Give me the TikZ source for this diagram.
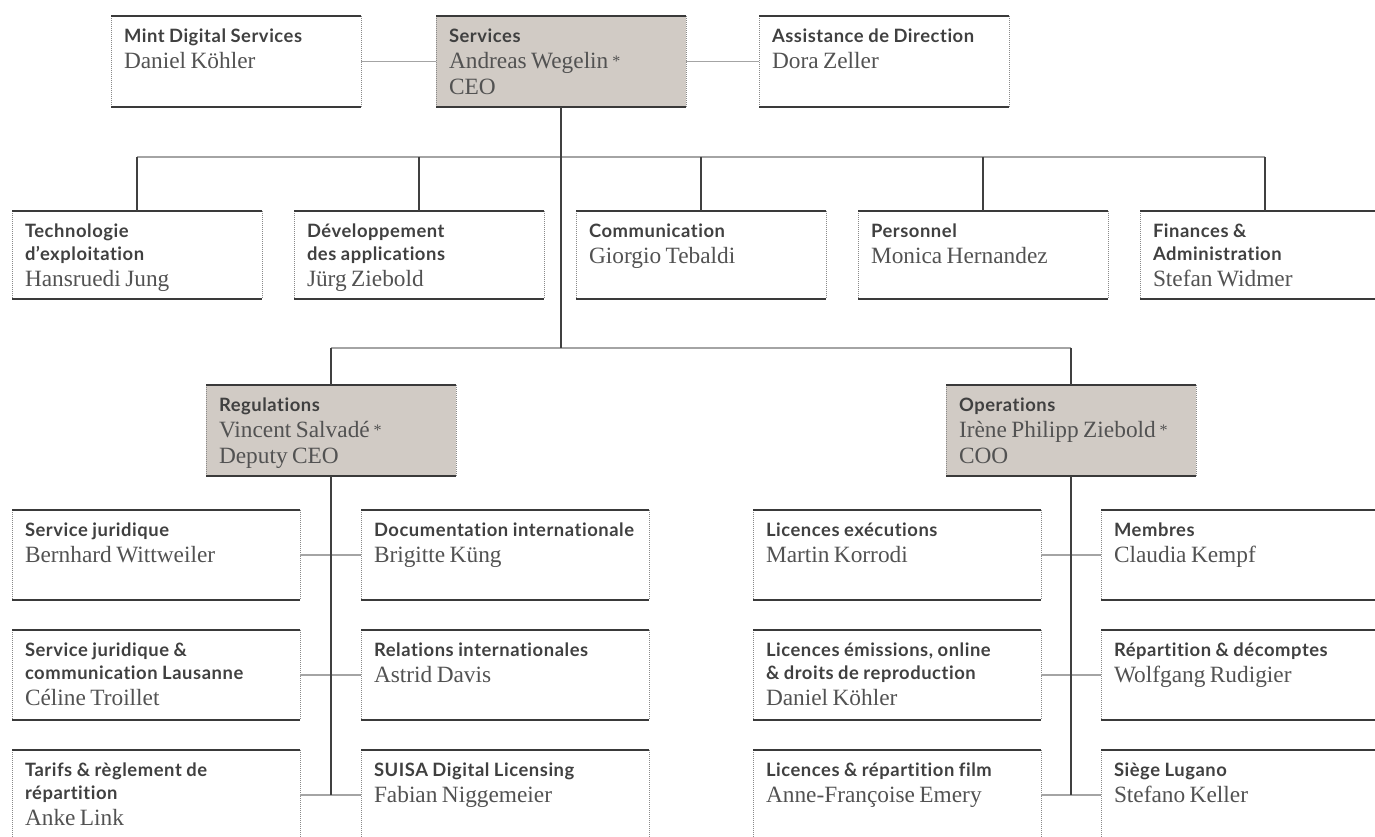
\documentclass[tikz,border=0pt]{standalone}
\usepackage{fontspec}
\newfontfamily\hdfont{Lato}[LetterSpace=3,Ligatures=NoCommon]
\newfontfamily\nmfont{Liberation Serif}
\definecolor{boxgray}{HTML}{D1CBC5}
\definecolor{headc}{HTML}{404040}
\definecolor{namec}{HTML}{525252}
\definecolor{edgec}{HTML}{3A3A3A}
\definecolor{hlc}{HTML}{A4A4A4}
\definecolor{vlc}{HTML}{404040}
\definecolor{sidec}{HTML}{8A8A8A}
\newcommand\starmark{\,\raisebox{1.5pt}{\fontsize{12}{12}\selectfont *}}
\newcommand\cardtext[3]{%
  \parbox[t][#1][t]{\linewidth}{%
    \leftskip=9.75pt\rightskip=0pt plus 1fil\parindent=0pt
    {\hdfont\bfseries\color{headc}\fontsize{13.8}{17.25}\selectfont\rule{0pt}{20pt}#2\par}%
    {\nmfont\color{namec}\fontsize{17.5}{19.5}\selectfont #3\par}}}
\tikzset{
  cardN/.style={anchor=north west, inner sep=0pt, outer sep=0pt, text width=187.5pt},
  cardW/.style={anchor=north west, inner sep=0pt, outer sep=0pt, text width=216pt},
  shade/.style={fill=boxgray},
  edgeline/.style={draw=edgec, line width=1.8pt},
  sideline/.style={draw=sidec, line width=0.5pt, densely dotted},
  hline/.style={draw=hlc, line width=1.4pt},
  vline/.style={draw=vlc, line width=1.1pt},
}
\begin{document}
\begin{tikzpicture}[x=0.75pt,y=-0.75pt]
\useasboundingbox (0,0) rectangle (1375,837);
\clip (0,0) rectangle (1375,837);
% top row
\node[cardN] (mint) at (111,16) {\cardtext{68.25pt}{Mint Digital Services}{Daniel Köhler}};
\node[cardN,shade] (svc) at (436,16) {\cardtext{68.25pt}{Services}{Andreas Wegelin\starmark\\CEO}};
\node[cardN] (assist) at (759,16) {\cardtext{68.25pt}{Assistance de Direction}{Dora Zeller}};
% second row
\node[cardN] (tech) at (12,211) {\cardtext{66pt}{Technologie\\d’exploitation}{Hansruedi Jung}};
\node[cardN] (dev) at (294,211) {\cardtext{66pt}{Développement\\des applications}{Jürg Ziebold}};
\node[cardN] (comm) at (576,211) {\cardtext{66pt}{Communication}{Giorgio Tebaldi}};
\node[cardN] (pers) at (858,211) {\cardtext{66pt}{Personnel}{Monica Hernandez}};
\node[cardN] (fin) at (1140,211) {\cardtext{66pt}{Finances \&\\Administration}{Stefan Widmer}};
% divisions
\node[cardN,shade] (reg) at (206,385) {\cardtext{68.25pt}{Regulations}{Vincent Salvadé\starmark\\Deputy CEO}};
\node[cardN,shade] (ops) at (946,385) {\cardtext{68.25pt}{Operations}{Irène Philipp Ziebold\starmark\\COO}};
% regulations units
\node[cardW] (r1) at (12,510) {\cardtext{67.5pt}{Service juridique}{Bernhard Wittweiler}};
\node[cardW] (r2) at (12,630) {\cardtext{67.5pt}{Service juridique \&\\communication Lausanne}{Céline Troillet}};
\node[cardW] (r3) at (12,750) {\cardtext{67.5pt}{Tarifs \& règlement de\\répartition}{Anke Link}};
\node[cardW] (r4) at (361,510) {\cardtext{67.5pt}{Documentation internationale}{Brigitte Küng}};
\node[cardW] (r5) at (361,630) {\cardtext{67.5pt}{Relations internationales}{Astrid Davis}};
\node[cardW] (r6) at (361,750) {\cardtext{67.5pt}{SUISA Digital Licensing}{Fabian Niggemeier}};
% operations units
\node[cardW] (o1) at (753,510) {\cardtext{67.5pt}{Licences exécutions}{Martin Korrodi}};
\node[cardW] (o2) at (753,630) {\cardtext{67.5pt}{Licences émissions, online\\\& droits de reproduction}{Daniel Köhler}};
\node[cardW] (o3) at (753,750) {\cardtext{67.5pt}{Licences \& répartition film}{Anne-Françoise Emery}};
\node[cardW] (o4) at (1101,510) {\cardtext{67.5pt}{Membres}{Claudia Kempf}};
\node[cardW] (o5) at (1101,630) {\cardtext{67.5pt}{Répartition \& décomptes}{Wolfgang Rudigier}};
\node[cardW] (o6) at (1101,750) {\cardtext{67.5pt}{Siège Lugano}{Stefano Keller}};
% borders
\foreach \n in {mint,svc,assist,tech,dev,comm,pers,fin,reg,ops,r1,r2,r3,r4,r5,r6,o1,o2,o3,o4,o5,o6}{
  \draw[sideline] (\n.north west) -- (\n.south west);
  \draw[sideline] (\n.north east) -- (\n.south east);
  \draw[edgeline] (\n.north west) -- (\n.north east);
  \draw[edgeline] (\n.south west) -- (\n.south east);
}
% junctions
\coordinate (jtop) at (561,157);
\coordinate (jmid) at (561,348);
% horizontal connectors
\draw[hline] (mint.east) -- (svc.west);
\draw[hline] (svc.east) -- (assist.west);
\draw[hline] (tech.north |- jtop) -- (fin.north |- jtop);
\draw[hline] (reg.north |- jmid) -- (ops.north |- jmid);
\draw[hline] (r1.east) -- (r4.west);
\draw[hline] (r2.east) -- (r5.west);
\draw[hline] (r3.east) -- (r6.west);
\draw[hline] (o1.east) -- (o4.west);
\draw[hline] (o2.east) -- (o5.west);
\draw[hline] (o3.east) -- (o6.west);
% vertical connectors
\draw[vline] (svc.south) -- (svc.south |- jmid);
\foreach \n in {tech,dev,comm,pers,fin}{\draw[vline] (\n.north |- jtop) -- (\n.north);}
\draw[vline] (reg.north |- jmid) -- (reg.north);
\draw[vline] (ops.north |- jmid) -- (ops.north);
\draw[vline] (reg.south) -- (reg.south |- r3.east);
\draw[vline] (ops.south) -- (ops.south |- o3.east);
\end{tikzpicture}
\end{document}
